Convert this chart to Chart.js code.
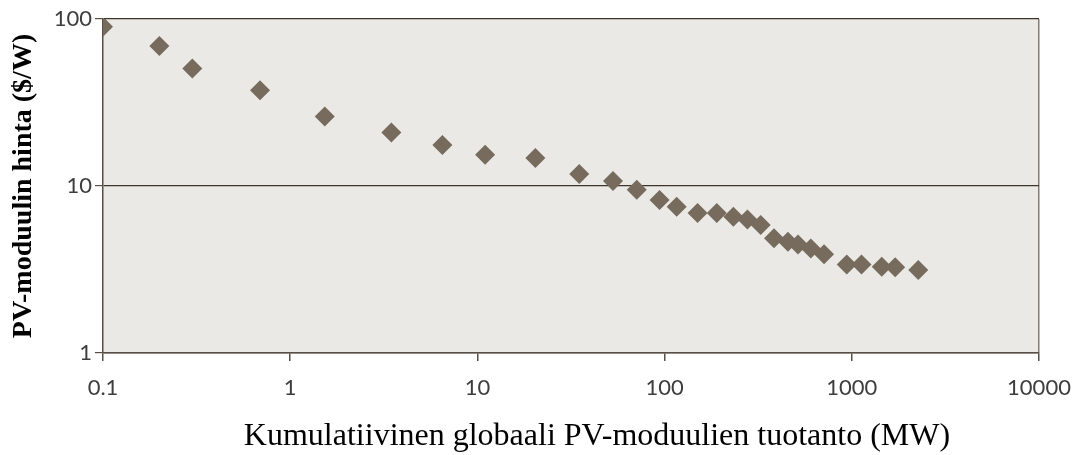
<!DOCTYPE html>
<html>
<head>
<meta charset="utf-8">
<script src="https://cdn.jsdelivr.net/npm/chart.js@4/dist/chart.umd.min.js"></script>
<style>
  html, body { margin: 0; padding: 0; background: #fff; }
  #wrap { width: 1078px; height: 455px; }
</style>
</head>
<body>
<div id="wrap"><canvas id="pvChart"></canvas></div>
<script>
// cumulative production (MW) and module price ($/W)
const production = [0.1, 0.2, 0.3, 0.69, 1.53, 3.47, 6.5, 11, 20.4, 35, 53, 71, 94, 116,
    150, 190, 233, 277, 326, 384, 456, 516, 604, 711, 940, 1127, 1445, 1705, 2265];
const price = [90, 69, 50.5, 37.4, 26.1, 20.9, 17.6, 15.4, 14.7, 11.8, 10.7, 9.5, 8.25, 7.5,
    6.9, 6.9, 6.55, 6.3, 5.85, 4.86, 4.64, 4.47, 4.23, 3.9, 3.39, 3.39, 3.28, 3.26, 3.14];
const xTicks = [0.1, 1, 10, 100, 1000, 10000];
const yTicks = [1, 10, 100];

const xTitle = 'Kumulatiivinen globaali PV-moduulien tuotanto (MW)';
const yTitle = 'PV-moduulin hinta ($/W)';

const points = production.map((x, i) => ({ x: x, y: price[i] }));

// grey plot background + x axis title
const plotBg = {
    id: 'plotBg',
    beforeDraw(chart) {
        const a = chart.chartArea;
        const c = chart.ctx;
        c.save();
        c.fillStyle = '#eae9e6';
        c.fillRect(a.left, a.top, a.right - a.left, a.bottom - a.top);
        c.restore();
    },
    afterDraw(chart) {
        const c = chart.ctx;
        c.save();
        c.font = '32px "Liberation Serif", "Times New Roman", serif';
        c.fillStyle = '#000';
        c.textAlign = 'center';
        c.textBaseline = 'alphabetic';
        c.fillText(xTitle, 597, 445);
        c.restore();
    }
};

const tickFont = { family: 'Lato, "Noto Sans", sans-serif', size: 22 };

new Chart(document.getElementById('pvChart'), {
    type: 'scatter',
    data: {
        datasets: [{
            data: points,
            pointStyle: 'rectRot',
            pointRadius: 10,
            pointHoverRadius: 10,
            pointBackgroundColor: '#766b5c',
            pointBorderWidth: 0
        }]
    },
    options: {
        responsive: true,
        maintainAspectRatio: false,
        animation: false,
        events: [],
        layout: { padding: { top: 19, right: 39, left: 0, bottom: 0 } },
        plugins: {
            legend: { display: false },
            tooltip: { enabled: false }
        },
        scales: {
            x: {
                type: 'logarithmic',
                min: 0.1,
                max: 10000,
                afterBuildTicks: s => { s.ticks = xTicks.map(v => ({ value: v })); },
                afterFit: s => { s.height = 102; s.paddingRight = 0; s.paddingLeft = 0; },
                border: { display: true, color: '#5a4f45', width: 1.5 },
                grid: {
                    drawOnChartArea: true,
                    color: c => (c.tick && c.tick.value === 10000) ? '#857b70' : 'rgba(0,0,0,0)',
                    tickColor: '#5a4f45',
                    tickLength: 8,
                    lineWidth: 1.5
                },
                ticks: {
                    font: tickFont,
                    color: '#3d3d3d',
                    padding: 14,
                    maxRotation: 0,
                    callback: v => String(v)
                }
            },
            y: {
                type: 'logarithmic',
                min: 1,
                max: 100,
                afterBuildTicks: s => { s.ticks = yTicks.map(v => ({ value: v })); },
                afterFit: s => { s.width = 103; },
                border: { display: true, color: '#5a4f45', width: 1.5 },
                grid: {
                    color: '#3e342c',
                    tickColor: '#5a4f45',
                    tickLength: 8,
                    lineWidth: 1.2
                },
                ticks: {
                    font: tickFont,
                    color: '#3d3d3d',
                    padding: 3,
                    callback: v => String(v)
                },
                title: {
                    display: true,
                    text: yTitle,
                    color: '#000',
                    font: { family: '"Liberation Serif", "Times New Roman", serif', size: 28, weight: 'bold' },
                    padding: { top: 7, bottom: 0 }
                }
            }
        }
    },
    plugins: [plotBg]
});
</script>
</body>
</html>
